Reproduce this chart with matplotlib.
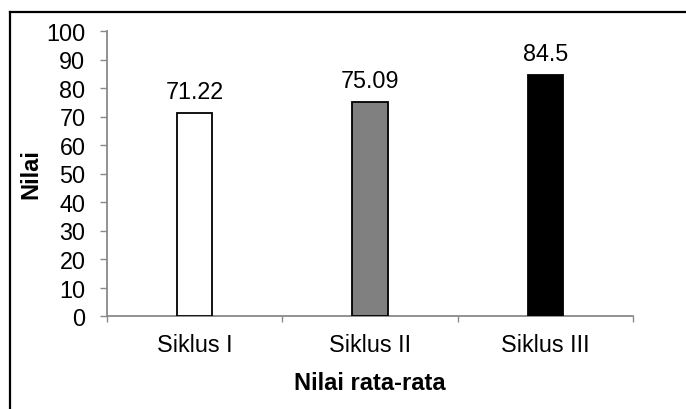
import matplotlib
matplotlib.use("Agg")
import matplotlib.pyplot as plt
from matplotlib.lines import Line2D

# Data
categories = ["Siklus I", "Siklus II", "Siklus III"]
values = [71.22, 75.09, 84.5]
value_labels = ["71.22", "75.09", "84.5"]
bar_colors = ["#ffffff", "#808080", "#000000"]
y_ticks = list(range(0, 101, 10))

plt.rcParams["font.family"] = ["Liberation Sans", "DejaVu Sans"]
FS = 16.8
FS_BOLD = 17
AXIS_GRAY = "#898989"

W, H = 686, 410
fig = plt.figure(figsize=(W / 100, H / 100), dpi=100)
ax = fig.add_axes([107 / W, 1 - 317 / H, (633 - 107) / W, (317 - 32) / H])

x = list(range(len(categories)))
ax.bar(x, values, width=0.2, color=bar_colors, edgecolor="black", linewidth=1.3, zorder=3)

for xi, v, lab in zip(x, values, value_labels):
    ax.annotate(lab, (xi, v), xytext=(0, 11), textcoords="offset points",
                ha="center", va="baseline", fontsize=FS, color="black")

ax.set_xlim(-0.5, len(categories) - 0.5)
ax.set_ylim(0, 100)
ax.set_yticks(y_ticks)
ax.set_yticklabels([str(t) for t in y_ticks])

# category boundaries carry the tick marks, centers carry the labels
ax.set_xticks([i - 0.5 for i in range(len(categories) + 1)])
ax.set_xticklabels([])
ax.set_xticks(x, minor=True)
ax.set_xticklabels(categories, minor=True)
ax.tick_params(axis="x", which="major", direction="out", length=4.5, width=1, color=AXIS_GRAY)
ax.tick_params(axis="x", which="minor", length=0, pad=12, labelsize=FS)
ax.tick_params(axis="y", direction="out", length=5, width=1, color=AXIS_GRAY, pad=10.5, labelsize=FS)

for side in ("top", "right"):
    ax.spines[side].set_visible(False)
for side in ("left", "bottom"):
    ax.spines[side].set_color(AXIS_GRAY)
    ax.spines[side].set_linewidth(1.3)

fig.text(370 / W, 1 - 390 / H, "Nilai rata-rata", ha="center", va="baseline",
         fontsize=FS_BOLD, fontweight="bold")
fig.text(37 / W, 1 - 174 / H, "Nilai", rotation=90, rotation_mode="anchor",
         ha="center", va="baseline", fontsize=FS_BOLD, fontweight="bold")

# outer frame (top and left edges)
fig.add_artist(Line2D([9.5 / W, 1.0], [1 - 12.5 / H, 1 - 12.5 / H], transform=fig.transFigure,
                      color="black", linewidth=1.6))
fig.add_artist(Line2D([9.5 / W, 9.5 / W], [0, 1 - 12.5 / H], transform=fig.transFigure,
                      color="black", linewidth=1.6))

fig.savefig("out.png", dpi=100, facecolor="white")
